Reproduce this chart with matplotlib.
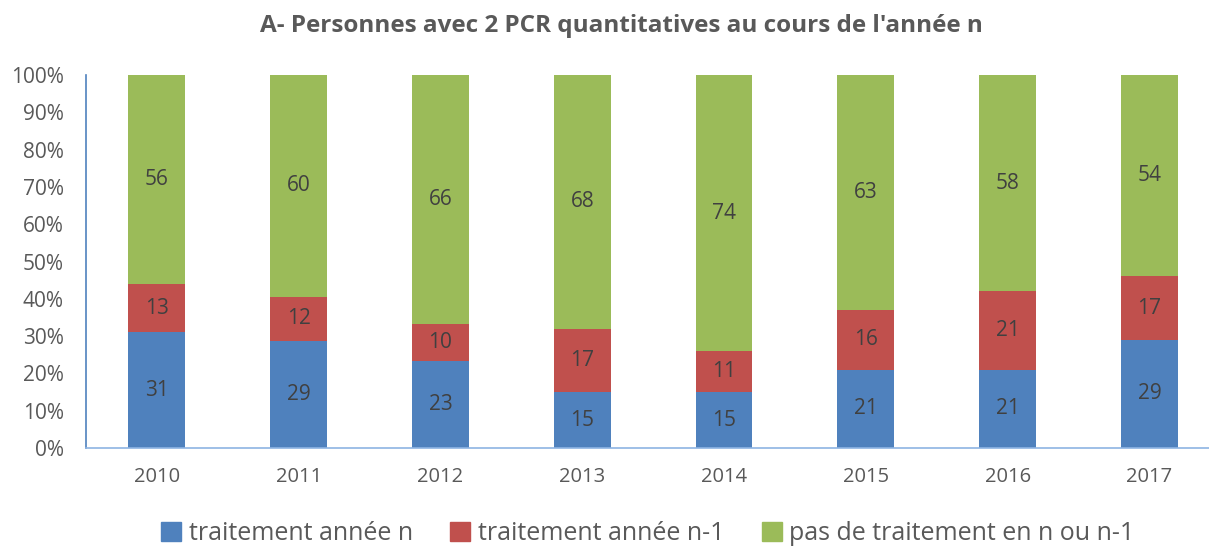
import numpy as np
import matplotlib.pyplot as plt
from matplotlib.patches import Patch

plt.rcParams['font.family'] = ['Open Sans', 'DejaVu Sans']

years = ["2010", "2011", "2012", "2013", "2014", "2015", "2016", "2017"]
trait_n = [31, 29, 23, 15, 15, 21, 21, 29]
trait_n1 = [13, 12, 10, 17, 11, 16, 21, 17]
pas_trait = [56, 60, 66, 68, 74, 63, 58, 54]
labels = ["traitement année n", "traitement année n-1", "pas de traitement en n ou n-1"]
colors = ["#4F81BD", "#C0504D", "#9BBB59"]

vals = np.array([trait_n, trait_n1, pas_trait], dtype=float)
pct = vals / vals.sum(axis=0) * 100  # 100% stacked

fig = plt.figure(figsize=(12.09, 5.46), dpi=100)
ax = fig.add_axes([0.0711, 0.1795, 0.9289, 0.6831])
x = np.arange(len(years))
bottom = np.zeros(len(years))
for i in range(3):
    ax.bar(x, pct[i], 0.4, bottom=bottom, color=colors[i], linewidth=0)
    for j in range(len(years)):
        ax.text(x[j], bottom[j] + pct[i][j] / 2, str(int(vals[i][j])),
                ha="center", va="center", fontsize=15, color="#404040")
    bottom += pct[i]

ax.set_xlim(-0.5, 7.42)
ax.set_ylim(0, 100)
ax.set_yticks(np.arange(0, 101, 10))
ax.set_yticklabels([f"{v}%" for v in range(0, 101, 10)])
ax.set_xticks(x)
ax.set_xticklabels(years)
ax.tick_params(length=0, labelsize=14.5, colors="#595959")
ax.tick_params(axis="y", labelsize=15, pad=16)
ax.tick_params(axis="x", pad=14)
for s in ["top", "right"]:
    ax.spines[s].set_visible(False)
ax.spines["left"].set_color("#4F81BD")
ax.spines["bottom"].set_color("#8EB4E3")
ax.spines["left"].set_linewidth(1.2)
ax.spines["bottom"].set_linewidth(1.2)

fig.text(0.514, 0.952, "A- Personnes avec 2 PCR quantitatives au cours de l'année n",
         ha="center", va="center", fontsize=17.5, fontweight="bold", color="#595959")

handles = [Patch(color=c) for c in colors]
fig.legend(handles, labels, loc="center", bbox_to_anchor=(0.536, 0.022), ncol=3,
           frameon=False, fontsize=18, labelcolor="#595959", handlelength=0.8,
           handleheight=0.8, handletextpad=0.3, columnspacing=1.5)

fig.savefig("out.png", dpi=100)
